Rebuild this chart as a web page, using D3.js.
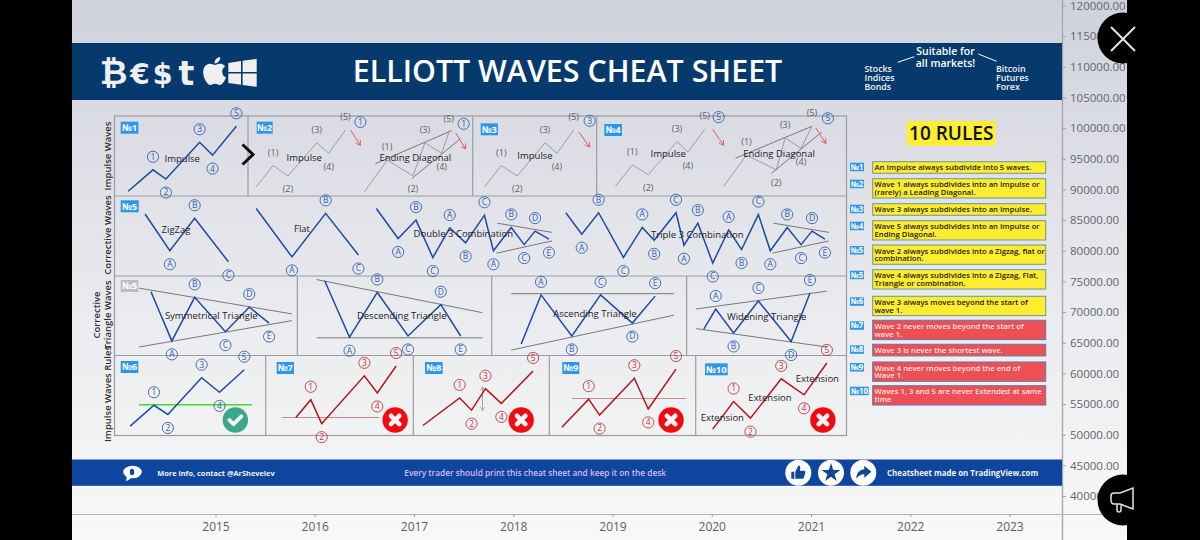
<!DOCTYPE html>
<html>
<head>
<meta charset="utf-8">
<script src="https://cdnjs.cloudflare.com/ajax/libs/d3/7.8.5/d3.min.js"></script>
<style>
  html, body { margin: 0; padding: 0; background: #000; }
  svg { display: block; }
  text { font-family: "Open Sans", sans-serif; }
</style>
</head>
<body>
<svg id="chart"></svg>
<script>
// axis ticks
const yearTicks = [2015, 2016, 2017, 2018, 2019, 2020, 2021, 2022, 2023];
const priceTicks = [120000, 115000, 110000, 105000, 100000, 95000, 90000, 85000, 80000, 75000, 70000, 65000, 60000, 55000, 50000, 45000, 40000];

// wave labels
const motive = ['1', '2', '3', '4', '5'];
const abc = ['A', 'B', 'C'];
const abcde = ['A', 'B', 'C', 'D', 'E'];
const double3 = ['A', 'B', 'C', 'A', 'B', 'C', 'A', 'B', 'C', 'D', 'E'];
const triple3 = ['A', 'B', 'C', 'A', 'B', 'C', 'A', 'B', 'C', 'A', 'B', 'C', 'A', 'B', 'C', 'D', 'E'];

// row 1, impulse waves
const impulse1Years = [2014.12, 2014.37, 2014.50, 2014.84, 2014.97, 2015.21];
const impulse1Prices = [89700, 93200, 91700, 97700, 95600, 100300];
const impulse2Years = [2015.41, 2015.58, 2015.73, 2016.02, 2016.14, 2016.31];
const impulse2Prices = [90400, 93900, 92200, 97600, 95900, 99700];
const diagonal2Years = [2016.50, 2016.73, 2016.99, 2017.11, 2017.28, 2017.35];
const diagonal2Prices = [89600, 94800, 92200, 97600, 95900, 99300];
const impulse3Years = [2017.71, 2017.88, 2018.04, 2018.32, 2018.44, 2018.61];
const impulse3Prices = [90400, 93900, 92200, 97600, 95900, 99700];
const impulse4Years = [2019.03, 2019.20, 2019.36, 2019.65, 2019.76, 2019.93];
const impulse4Prices = [90500, 94000, 92400, 97800, 96100, 99800];
const diagonal4Years = [2020.12, 2020.35, 2020.65, 2020.74, 2020.90, 2021.01];
const diagonal4Prices = [90500, 95600, 93200, 98400, 96700, 100300];

// row 2, corrective waves
const zigzagYears = [2014.29, 2014.54, 2014.79, 2015.13];
const zigzagPrices = [86000, 80000, 85300, 78200];
const flatYears = [2015.41, 2015.77, 2016.11, 2016.44];
const flatPrices = [86900, 79000, 86100, 79300];
const double3Years = [2016.62, 2016.84, 2017.02, 2017.19, 2017.36, 2017.52, 2017.71, 2017.80, 2017.98, 2018.11, 2018.22, 2018.36];
const double3Prices = [86900, 82000, 85000, 78900, 83700, 81300, 85800, 80000, 83800, 81000, 83200, 81900];
const triple3Years = [2018.53, 2018.69, 2018.86, 2019.11, 2019.30, 2019.42, 2019.64, 2019.72, 2019.86, 2020.01, 2020.17, 2020.30, 2020.47, 2020.59, 2020.76, 2020.90, 2021.01, 2021.14];
const triple3Prices = [86200, 82700, 86200, 78900, 83800, 81700, 86200, 80900, 84500, 78000, 83400, 80200, 85900, 80000, 83800, 81000, 83200, 81900];

// row 3, triangles
const symmetricalYears = [2014.35, 2014.56, 2014.79, 2015.10, 2015.34, 2015.54];
const symmetricalPrices = [73300, 65300, 72400, 66800, 70800, 68200];
const descendingYears = [2016.10, 2016.35, 2016.63, 2016.94, 2017.27, 2017.47];
const descendingPrices = [75100, 65900, 73200, 66100, 71200, 66100];
const ascendingYears = [2018.08, 2018.28, 2018.59, 2018.88, 2019.20, 2019.43];
const ascendingPrices = [64800, 72800, 66100, 72800, 68200, 72600];
const wideningYears = [2019.92, 2020.04, 2020.22, 2020.47, 2020.80, 2020.99];
const wideningPrices = [67200, 70500, 66600, 71800, 65200, 73100];

// row 4, impulse rules
const rule6Years = [2014.14, 2014.38, 2014.52, 2014.86, 2015.04, 2015.29];
const rule6Prices = [51400, 54800, 53300, 59300, 56900, 60600];
const rule7Years = [2015.81, 2015.96, 2016.07, 2016.50, 2016.63, 2016.82];
const rule7Prices = [52800, 55700, 51800, 59600, 56800, 61200];
const rule8Years = [2017.09, 2017.46, 2017.58, 2017.72, 2017.88, 2018.20];
const rule8Prices = [51500, 56000, 54000, 57500, 55100, 60400];
const rule9Years = [2018.49, 2018.76, 2018.87, 2019.22, 2019.36, 2019.64];
const rule9Prices = [51200, 55800, 53200, 59200, 54200, 60700];
const rule10Years = [2020.01, 2020.22, 2020.39, 2020.70, 2020.93, 2021.16];
const rule10Prices = [50900, 55400, 52700, 59100, 56500, 61700];

// trend lines, [x1, x2] and [y1, y2]
const trendRows = [
  [[2016.61, 2017.38], [94200, 99600]],
  [[2016.98, 2017.47], [91800, 98300]],
  [[2020.24, 2021.01], [95100, 100300]],
  [[2020.60, 2021.11], [92600, 99400]],
  [[2017.84, 2018.39], [84500, 83000]],
  [[2017.83, 2018.39], [79600, 81600]],
  [[2020.62, 2021.18], [84500, 83000]],
  [[2020.61, 2021.18], [79600, 81600]],
  [[2014.23, 2015.77], [73900, 69700]],
  [[2014.23, 2015.77], [64300, 68600]],
  [[2016.02, 2017.69], [75300, 69900]],
  [[2016.02, 2017.69], [65800, 65800]],
  [[2017.98, 2019.62], [73000, 73000]],
  [[2017.98, 2019.62], [63800, 69500]],
  [[2019.84, 2021.16], [70500, 73400]],
  [[2019.84, 2021.16], [67300, 64300]]
];

// higher degree marks and red arrows after the five waves
const degreeNames = ['1', '1', '3', '5', '5'];
const degreeYears = [2016.46, 2017.50, 2018.77, 2020.07, 2021.17];
const degreePrices = [101000, 100700, 101200, 101800, 101600];
const arrowYears = [[2016.36, 2016.46], [2017.42, 2017.52], [2018.66, 2018.77], [2020.01, 2020.12], [2021.05, 2021.15]];
const arrowPrices = [[99700, 97200], [99200, 96600], [99400, 96900], [99800, 97200], [100000, 97500]];

// rule level lines and verdicts in row 4
const levelYears = [[2014.23, 2015.37], [2015.67, 2016.65], [2018.59, 2019.74]];
const levelPrices = [54900, 52800, 55900];
const verdictYears = [2015.20, 2016.81, 2018.08, 2019.59, 2021.12];
const verdictPrice = 52400;
const verdictPass = [true, false, false, false, false];

// rule list
const ruleBadges = ['№1', '№2', '№3', '№4', '№5', '№5', '№6', '№7', '№8', '№9', '№10'];
const ruleTexts = [
  ['An Impulse always subdivide into 5 waves.'],
  ['Wave 1 always subdivides into an Impulse or', '(rarely) a Leading Diagonal.'],
  ['Wave 3 always subdivides into an Impulse.'],
  ['Wave 5 always subdivides into an Impulse or', 'Ending Diagonal.'],
  ['Wave 2 always subdivides into a Zigzag, flat or', 'combination.'],
  ['Wave 4 always subdivides into a Zigzag, Flat,', 'Triangle or combination.'],
  ['Wave 3 always moves beyond the start of', 'wave 1.'],
  ['Wave 2 never moves beyond the start of', 'wave 1.'],
  ['Wave 3 is never the shortest wave.'],
  ['Wave 4 never moves beyond the end of', 'Wave 1.'],
  ['Waves 1, 3 and 5 are never Extended at same', 'time']
];
const ruleBroken = [false, false, false, false, false, false, false, true, true, true, true];

const waves = [
  { years: impulse1Years, prices: impulse1Prices, labels: motive, kind: 'blue' },
  { years: impulse2Years, prices: impulse2Prices, labels: motive, kind: 'gray' },
  { years: diagonal2Years, prices: diagonal2Prices, labels: motive, kind: 'gray' },
  { years: impulse3Years, prices: impulse3Prices, labels: motive, kind: 'gray' },
  { years: impulse4Years, prices: impulse4Prices, labels: motive, kind: 'gray' },
  { years: diagonal4Years, prices: diagonal4Prices, labels: motive, kind: 'gray' },
  { years: zigzagYears, prices: zigzagPrices, labels: abc, kind: 'blue' },
  { years: flatYears, prices: flatPrices, labels: abc, kind: 'blue' },
  { years: double3Years, prices: double3Prices, labels: double3, kind: 'blue' },
  { years: triple3Years, prices: triple3Prices, labels: triple3, kind: 'blue' },
  { years: symmetricalYears, prices: symmetricalPrices, labels: abcde, kind: 'blue' },
  { years: descendingYears, prices: descendingPrices, labels: abcde, kind: 'blue' },
  { years: ascendingYears, prices: ascendingPrices, labels: abcde, kind: 'blue' },
  { years: wideningYears, prices: wideningPrices, labels: abcde, kind: 'blue' },
  { years: rule6Years, prices: rule6Prices, labels: motive, kind: 'blue' },
  { years: rule7Years, prices: rule7Prices, labels: motive, kind: 'red' },
  { years: rule8Years, prices: rule8Prices, labels: motive, kind: 'red' },
  { years: rule9Years, prices: rule9Prices, labels: motive, kind: 'red' },
  { years: rule10Years, prices: rule10Prices, labels: motive, kind: 'red' }
];

const waveStyle = {
  blue: { stroke: '#1a4ca3', width: 1.5, ink: '#2f62b4' },
  gray: { stroke: '#8b8c90', width: 0.8, ink: '#5f6064' },
  red: { stroke: '#b4141c', width: 1.5, ink: '#c23a40' }
};

const width = 1200, height = 540;
const left = 72, right = 1127, plotRight = 1062, plotBottom = 514;

const x = d3.scaleLinear().domain([2015, 2023]).range([215.5, 1009.5]);
const y = d3.scaleLinear().domain([120000, 40000]).range([5.5, 496]);

const svg = d3.select('#chart').attr('width', width).attr('height', height);

const defs = svg.append('defs');
const grad = defs.append('linearGradient').attr('id', 'page').attr('x1', 0).attr('y1', 0).attr('x2', 0).attr('y2', 1);
[[0, '#cfd2db'], [0.25, '#dcdde4'], [0.6, '#ebecef'], [1, '#f8f8f8']].forEach(s => {
  grad.append('stop').attr('offset', s[0]).attr('stop-color', s[1]);
});
defs.append('marker').attr('id', 'redHead')
  .attr('viewBox', '0 0 10 10').attr('refX', 9).attr('refY', 5)
  .attr('markerWidth', 6).attr('markerHeight', 6).attr('orient', 'auto')
  .append('path').attr('d', 'M1,0 L9,5 L1,10').attr('fill', 'none').attr('stroke', '#e2565c').attr('stroke-width', 1.4);
defs.append('marker').attr('id', 'grayHead')
  .attr('viewBox', '0 0 10 10').attr('refX', 9).attr('refY', 5)
  .attr('markerWidth', 6).attr('markerHeight', 6).attr('orient', 'auto-start-reverse')
  .append('path').attr('d', 'M1,0 L9,5 L1,10').attr('fill', 'none').attr('stroke', '#8b8c90').attr('stroke-width', 1.2);

svg.append('rect').attr('x', left).attr('y', 0).attr('width', right - left).attr('height', height).attr('fill', 'url(#page)');

// axes
const yAxis = svg.append('g')
  .attr('transform', `translate(${plotRight},0)`)
  .call(d3.axisRight(y).tickValues(priceTicks).tickFormat(d3.format('.2f')).tickSize(4).tickPadding(4));
yAxis.select('.domain').attr('stroke', '#a8a9ad').attr('stroke-width', 1.4).attr('d', `M0.5,0V${height}`);
yAxis.selectAll('.tick line').attr('stroke', '#9aa2b0');
yAxis.selectAll('text').style('font-size', '11.5px').style('font-family', '"Open Sans", sans-serif').attr('fill', '#62656c');

const xAxis = svg.append('g')
  .attr('transform', `translate(0,${plotBottom})`)
  .call(d3.axisBottom(x).tickValues(yearTicks).tickFormat(d3.format('d')).tickSize(3).tickPadding(5));
xAxis.select('.domain').attr('stroke', '#b4b5b8').attr('stroke-width', 1.2).attr('d', `M${left},0.5H${right}`);
xAxis.selectAll('.tick line').attr('stroke', '#a0a1a4');
xAxis.selectAll('text').style('font-size', '12px').style('font-family', '"Open Sans", sans-serif').attr('fill', '#5d6066');

// header band
svg.append('rect').attr('x', left).attr('y', 43).attr('width', plotRight - left).attr('height', 57).attr('fill', '#073a6c');
svg.append('text').attr('x', 567.5).attr('y', 82).attr('text-anchor', 'middle')
  .style('font-size', '30.4px').style('font-weight', 600).attr('fill', '#fff')
  .text('ELLIOTT WAVES CHEAT SHEET');

const logoInk = '#efeff0';
[['₿', 113.5, 84, 34], ['€', 140, 84, 28], ['$', 162.5, 84, 29], ['t', 186.5, 85, 33]].forEach(g => {
  svg.append('text').attr('x', g[1]).attr('y', g[2]).attr('text-anchor', 'middle')
    .style('font-size', g[3] + 'px').style('font-weight', 700)
    .style('font-family', '"DejaVu Sans", sans-serif').attr('fill', logoInk).text(g[0]);
});
svg.append('path')
  .attr('transform', 'translate(198,54) scale(1.42)')
  .attr('fill', logoInk)
  .attr('d', 'M17.05 12.54c-.03-2.5 2.04-3.7 2.13-3.76-1.16-1.7-2.97-1.93-3.61-1.96-1.54-.16-3 .9-3.78.9-.78 0-1.98-.88-3.26-.86-1.68.03-3.22.98-4.09 2.48-1.74 3.02-.44 7.5 1.25 9.95.83 1.2 1.82 2.55 3.12 2.5 1.25-.05 1.72-.81 3.23-.81 1.51 0 1.94.81 3.26.78 1.35-.02 2.2-1.22 3.02-2.43.95-1.39 1.34-2.74 1.36-2.81-.03-.01-2.6-1-2.63-3.98zM14.56 5.2c.69-.84 1.16-2 1.03-3.16-1 .04-2.2.67-2.91 1.5-.64.74-1.2 1.92-1.05 3.06 1.11.09 2.24-.56 2.93-1.4z');
svg.append('path').attr('fill', logoInk)
  .attr('d', 'M228.3,63 L241,61 V72 H228.3Z M242.6,60.8 L256.7,58.8 V72 H242.6Z M228.3,73.6 H241 V84.8 L228.3,83Z M242.6,73.6 H256.7 V86.8 L242.6,85Z');

[['Suitable for', 945.5, 55], ['all markets!', 945.5, 66.5]].forEach(t => {
  svg.append('text').attr('x', t[1]).attr('y', t[2]).attr('text-anchor', 'middle')
    .style('font-size', '10.5px').style('font-weight', 600).attr('fill', '#fff').text(t[0]);
});
['Stocks', 'Indices', 'Bonds'].forEach((t, i) => {
  svg.append('text').attr('x', 864.5).attr('y', 71.8 + i * 9.2)
    .style('font-size', '8.8px').style('font-weight', 600).attr('fill', '#f2f2f2').text(t);
});
['Bitcoin', 'Futures', 'Forex'].forEach((t, i) => {
  svg.append('text').attr('x', 996).attr('y', 71.8 + i * 9.2)
    .style('font-size', '8.8px').style('font-weight', 600).attr('fill', '#f2f2f2').text(t);
});
[[897.7, 62.3, 914.3, 56.7], [978.3, 54, 996.7, 61.3]].forEach(l => {
  svg.append('line').attr('x1', l[0]).attr('y1', l[1]).attr('x2', l[2]).attr('y2', l[3])
    .attr('stroke', '#fff').attr('stroke-width', 1);
});

// panel frame
const frame = svg.append('g').attr('fill', 'none').attr('stroke', '#9c9da1').attr('stroke-width', 1.2);
frame.append('rect').attr('x', 114.5).attr('y', 116).attr('width', 732).attr('height', 319.5);
[196, 276, 355.5].forEach(r => {
  frame.append('line').attr('x1', 114.5).attr('x2', 846.5).attr('y1', r).attr('y2', r);
});
[[248, 116, 196], [472.7, 116, 196], [596.7, 116, 196],
 [297.3, 276, 355.5], [491.7, 276, 355.5], [686.7, 276, 355.5],
 [265.7, 355.5, 435.5], [413.3, 355.5, 435.5], [549.3, 355.5, 435.5], [695.7, 355.5, 435.5]].forEach(d => {
  frame.append('line').attr('x1', d[0]).attr('x2', d[0]).attr('y1', d[1]).attr('y2', d[2]);
});

// row titles
[['Impulse Waves', 111, 156], ['Corrective Waves', 111, 235], ['Corrective', 100, 315], ['Triangle Waves', 111, 315], ['Impulse Waves Rules', 111, 394]].forEach(r => {
  svg.append('text')
    .attr('transform', `translate(${r[1]},${r[2]}) rotate(-90)`)
    .attr('text-anchor', 'middle')
    .style('font-size', '9.5px').style('font-weight', 600).attr('fill', '#2f3033').text(r[0]);
});

// trend lines
svg.append('g').selectAll('line').data(trendRows).join('line')
  .attr('x1', d => x(d[0][0])).attr('x2', d => x(d[0][1]))
  .attr('y1', d => y(d[1][0])).attr('y2', d => y(d[1][1]))
  .attr('stroke', '#77787d').attr('stroke-width', 1);

// rule level lines
svg.append('g').selectAll('line').data(levelPrices).join('line')
  .attr('x1', (d, i) => x(levelYears[i][0])).attr('x2', (d, i) => x(levelYears[i][1]))
  .attr('y1', d => y(d)).attr('y2', d => y(d))
  .attr('stroke', (d, i) => i === 0 ? '#3fdc2c' : '#c98a8c')
  .attr('stroke-width', (d, i) => i === 0 ? 1.5 : 1);

// gray measuring arrow in rule 8
svg.append('line')
  .attr('x1', x(2017.69)).attr('x2', x(2017.69))
  .attr('y1', y(57800)).attr('y2', y(53900))
  .attr('stroke', '#8b8c90').attr('stroke-width', 0.8)
  .attr('marker-start', 'url(#grayHead)').attr('marker-end', 'url(#grayHead)');

// waves
const waveLine = d3.line().x(d => x(d.year)).y(d => y(d.price));
function drawMark(group, cx, cy, name, ink) {
  group.append('circle').attr('cx', cx).attr('cy', cy).attr('r', 5.6)
    .attr('fill', 'none').attr('stroke', ink).attr('stroke-width', 0.9);
  group.append('text').attr('x', cx).attr('y', cy + 2.9).attr('text-anchor', 'middle')
    .style('font-size', '8.5px').attr('fill', ink).text(name);
}
waves.forEach(wave => {
  const style = waveStyle[wave.kind];
  const points = wave.years.map((year, i) => ({ year, price: wave.prices[i] }));
  const g = svg.append('g');
  g.append('path').datum(points).attr('d', waveLine)
    .attr('fill', 'none').attr('stroke', style.stroke).attr('stroke-width', style.width).attr('stroke-linejoin', 'miter');

  // tops get the label above, bottoms below
  wave.labels.forEach((name, i) => {
    const p = points[i + 1];
    const isTop = p.price > points[i].price;
    const cy = y(p.price) + (isTop ? -13 : 13.5);
    if (wave.kind === 'gray') {
      g.append('text').attr('x', x(p.year)).attr('y', cy + 3).attr('text-anchor', 'middle')
        .style('font-size', '9px').attr('fill', style.ink).text(`(${name})`);
    } else {
      drawMark(g, x(p.year), cy, name, style.ink);
    }
  });
});

const degreeGroup = svg.append('g');
degreeNames.forEach((name, i) => drawMark(degreeGroup, x(degreeYears[i]), y(degreePrices[i]), name, '#2f62b4'));

svg.append('g').selectAll('line').data(arrowYears).join('line')
  .attr('x1', d => x(d[0])).attr('x2', d => x(d[1]))
  .attr('y1', (d, i) => y(arrowPrices[i][0])).attr('y2', (d, i) => y(arrowPrices[i][1]))
  .attr('stroke', '#e2565c').attr('stroke-width', 1).attr('marker-end', 'url(#redHead)');

// verdict badges
verdictYears.forEach((year, i) => {
  const cx = x(year), cy = y(verdictPrice);
  const g = svg.append('g').attr('transform', `translate(${cx},${cy})`);
  g.append('circle').attr('r', 12.7).attr('fill', verdictPass[i] ? '#3aa98b' : '#f20a0e');
  g.append('path')
    .attr('d', verdictPass[i] ? 'M-6,0 L-1.8,4.2 L6,-3.6' : 'M-4.2,-4.2 L4.2,4.2 M4.2,-4.2 L-4.2,4.2')
    .attr('fill', 'none').attr('stroke', '#f4f4f4').attr('stroke-width', verdictPass[i] ? 3.8 : 4.6)
    .attr('stroke-linecap', 'round').attr('stroke-linejoin', 'round');
});

// captions inside the panels
[['Impulse', 182.3, 159], ['Impulse', 304.3, 158], ['Ending Diagonal', 415.3, 157.5], ['Impulse', 535, 156], ['Impulse', 668.3, 154], ['Ending Diagonal', 779, 154],
 ['ZigZag', 176, 230], ['Flat', 302, 229], ['Double 3 Combination', 463.3, 233.5], ['Triple 3 Combination', 697.3, 234.7],
 ['Symmetrical Triangle', 211.3, 315.3], ['Descending Triangle', 401.7, 316], ['Ascending Triangle', 595, 313.7], ['Widening Triangle', 766.7, 317],
 ['Extension', 722.3, 418], ['Extension', 770, 397.3], ['Extension', 817.3, 379]].forEach(c => {
  svg.append('text').attr('x', c[1]).attr('y', c[2] + 3.4).attr('text-anchor', 'middle')
    .style('font-size', '9.5px').attr('fill', '#222326').text(c[0]);
});

// big chevron between №1 and №2
svg.append('path').attr('d', 'M242.5,144.5 L253,154.5 L242.5,164.5')
  .attr('fill', 'none').attr('stroke', '#0b0b0b').attr('stroke-width', 3);

// panel badges
function drawBadge(bx, by, bw, bh, name, fill, size) {
  svg.append('rect').attr('x', bx).attr('y', by).attr('width', bw).attr('height', bh).attr('fill', fill);
  svg.append('text').attr('x', bx + bw / 2).attr('y', by + bh / 2 + size * 0.36).attr('text-anchor', 'middle')
    .style('font-size', size + 'px').style('font-weight', 700).attr('fill', '#fff').text(name);
}
[[120.7, 121.7, 17.6, '№1'], [256.7, 121.7, 16, '№2'], [480.7, 123.3, 17.3, '№3'], [604.3, 124, 17.7, '№4'], [120.7, 200.3, 18, '№5'],
 [120.7, 361, 17.6, '№6'], [276.7, 362, 17.3, '№7'], [425, 362, 17.7, '№8'], [562.3, 362, 17, '№9'], [705, 363.3, 22.7, '№10']].forEach(b => {
  drawBadge(b[0], b[1], b[2], 12, b[3], '#2a97ef', 9.5);
});
drawBadge(120.7, 280, 17.6, 12, '№5', '#bcbdc1', 9.5);

// 10 rules list
svg.append('rect').attr('x', 906.7).attr('y', 121).attr('width', 89).attr('height', 24.7).attr('fill', '#ffee33');
svg.append('text').attr('x', 951.2).attr('y', 140).attr('text-anchor', 'middle')
  .style('font-size', '19px').style('font-weight', 600).attr('fill', '#111').text('10 RULES');

const ruleTops = [161.7, 178.7, 203.7, 220.7, 245, 269.7, 296.3, 320.3, 344.3, 362, 385.7];
ruleTexts.forEach((lines, i) => {
  const top = ruleTops[i];
  const boxH = lines.length === 1 ? 11.6 : 19.3;
  const broken = ruleBroken[i];
  svg.append('rect').attr('x', 872.7).attr('y', top).attr('width', 173).attr('height', boxH)
    .attr('fill', broken ? '#ee4f53' : '#ffec2e')
    .attr('stroke', broken ? '#6b78a8' : '#6fa09a').attr('stroke-width', 1.1);
  lines.forEach((t, k) => {
    svg.append('text').attr('x', 874.5).attr('y', top + 8.6 + k * 7.7)
      .style('font-size', '7.7px').style('font-weight', 600)
      .attr('fill', broken ? '#f6e6ea' : '#1a1a12').text(t);
  });
  const name = ruleBadges[i];
  drawBadge(850, top + 1, name === '№10' ? 18.7 : 14, 8.5, name, '#2a97ef', 8);
});

// footer band
svg.append('rect').attr('x', left).attr('y', 459.5).attr('width', plotRight - left).attr('height', 26.3).attr('fill', '#0e459f');
svg.append('text').attr('x', 157.3).attr('y', 475.5)
  .style('font-size', '7.4px').style('font-weight', 700).attr('fill', '#f1f1f5').text('More info, contact @ArShevelev');
svg.append('text').attr('x', 404.3).attr('y', 475.5)
  .style('font-size', '8.3px').style('font-weight', 600).attr('fill', '#d9b9ee').text('Every trader should print this cheat sheet and keep it on the desk');
svg.append('text').attr('x', 887).attr('y', 475.5)
  .style('font-size', '7.9px').style('font-weight', 700).attr('fill', '#f1f1f5').text('Cheatsheet made on TradingView.com');

// speech bubble
svg.append('ellipse').attr('cx', 132.5).attr('cy', 472).attr('rx', 9.3).attr('ry', 6.3).attr('fill', '#fff');
svg.append('path').attr('d', 'M127,476 L126,481.5 L133,477Z').attr('fill', '#fff');
svg.append('ellipse').attr('cx', 132).attr('cy', 472).attr('rx', 2.2).attr('ry', 3.2).attr('fill', '#0e459f');

// round footer buttons
const buttons = [798.3, 831, 863.3];
buttons.forEach(cx => {
  svg.append('circle').attr('cx', cx).attr('cy', 472.7).attr('r', 13).attr('fill', '#fff');
});
svg.append('path').attr('fill', '#0e459f')
  .attr('transform', 'translate(798.3,472.7)')
  .attr('d', 'M-7,-1 H-4 V6 H-7Z M-3,-1 L0,-7 Q2,-7.5 2,-5 L1.5,-2 H6 Q7.5,-2 7,0 L5.5,5 Q5,6 4,6 H-3Z');
svg.append('path').attr('fill', '#0e459f')
  .attr('transform', 'translate(831,473)')
  .attr('d', d3.symbol(d3.symbolStar, 110));
svg.append('path').attr('fill', '#0e459f')
  .attr('transform', 'translate(863.3,472.7)')
  .attr('d', 'M1,-7 L8,-1 L1,5 V1.5 C-3,1.5 -5,3 -7,6 C-7,0 -3,-3.5 1,-3.5Z');

// black phone bezel and the overlay buttons of the screenshot
svg.append('rect').attr('x', 0).attr('y', 0).attr('width', left).attr('height', height).attr('fill', '#000');
svg.append('rect').attr('x', right).attr('y', 0).attr('width', width - right).attr('height', height).attr('fill', '#000');
svg.append('circle').attr('cx', 1123).attr('cy', 38).attr('r', 25.5).attr('fill', '#000');
svg.append('path').attr('d', 'M1111,27 L1135,51 M1135,27 L1111,51')
  .attr('stroke', '#e3e3e3').attr('stroke-width', 2).attr('fill', 'none');
svg.append('circle').attr('cx', 1123).attr('cy', 500).attr('r', 25.5).attr('fill', '#000');
svg.append('path').attr('d', 'M1133,488 V509 L1120,504 H1114 Q1111,504 1111,500 V496 Q1111,493 1114,493 H1120Z M1117,504 V510 Q1117,512 1119,512 Q1121,512 1121,510 V505.5')
  .attr('stroke', '#e3e3e3').attr('stroke-width', 1.5).attr('fill', 'none');
</script>
</body>
</html>
